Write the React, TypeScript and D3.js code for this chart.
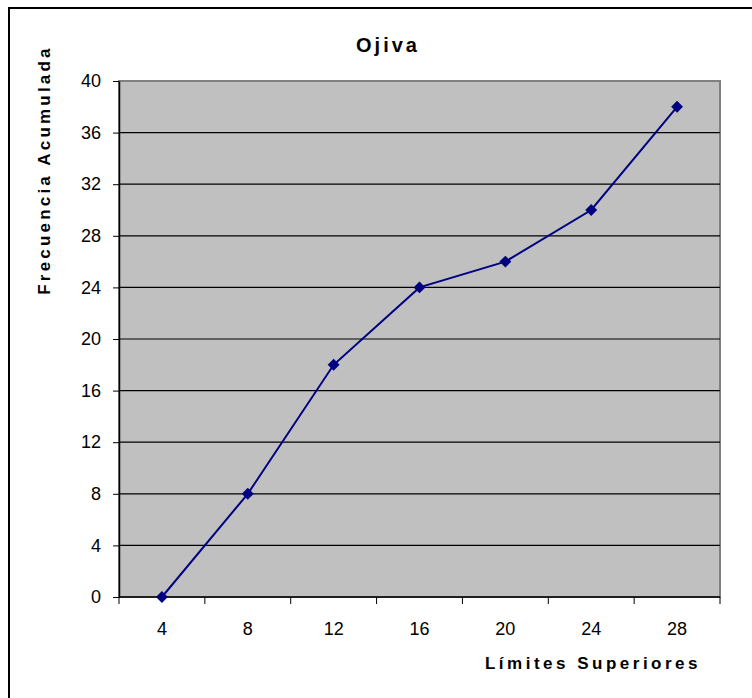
import React, { useEffect, useRef } from 'react';
import * as d3 from 'd3';

const categories = ['4', '8', '12', '16', '20', '24', '28'];
const values = [0, 8, 18, 24, 26, 30, 38];
const yTicks = [0, 4, 8, 12, 16, 20, 24, 28, 32, 36, 40];

const App = () => {
  const ref = useRef<SVGSVGElement | null>(null);

  useEffect(() => {
    const width = 752;
    const height = 698;
    const m = { left: 119, top: 81, right: 720, bottom: 597 };
    const font = 'Liberation Sans, Arial, sans-serif';

    const svg = d3.select(ref.current).attr('width', width).attr('height', height);
    svg.selectAll('*').remove();

    // outer chart border (cropped at right/bottom)
    svg.append('rect')
      .attr('x', 9).attr('y', 8)
      .attr('width', width + 20).attr('height', height + 20)
      .attr('fill', 'white').attr('stroke', 'black').attr('stroke-width', 2);

    const x = d3.scaleBand().domain(categories).range([m.left, m.right]);
    const y = d3.scaleLinear().domain([0, 40]).range([m.bottom, m.top]);

    // plot area
    svg.append('rect')
      .attr('x', m.left).attr('y', m.top)
      .attr('width', m.right - m.left).attr('height', m.bottom - m.top)
      .attr('fill', '#c0c0c0').attr('stroke', '#808080').attr('stroke-width', 2);

    // gridlines
    svg.append('g')
      .selectAll('line')
      .data(yTicks.filter((t) => t > 0 && t < 40))
      .enter().append('line')
      .attr('x1', m.left).attr('x2', m.right)
      .attr('y1', (d) => y(d)).attr('y2', (d) => y(d))
      .attr('stroke', 'black').attr('stroke-width', 1.2);

    // y axis
    const yAxis = svg.append('g')
      .attr('transform', `translate(${m.left},0)`)
      .call(d3.axisLeft(y).tickValues(yTicks).tickSize(6).tickSizeOuter(0).tickPadding(12));
    yAxis.select('.domain').attr('stroke', 'black').attr('stroke-width', 1.5);
    yAxis.selectAll('line').attr('stroke', 'black');
    yAxis.selectAll('text')
      .attr('font-family', font).attr('font-size', 18).attr('fill', 'black');

    // x axis
    const xAxis = svg.append('g').attr('transform', `translate(0,${m.bottom})`);
    xAxis.append('line')
      .attr('x1', m.left).attr('x2', m.right)
      .attr('stroke', 'black').attr('stroke-width', 1.5);
    const edges = categories.map((c) => x(c) as number).concat([m.right]);
    xAxis.selectAll('.tk')
      .data(edges)
      .enter().append('line')
      .attr('x1', (d) => d).attr('x2', (d) => d)
      .attr('y1', 0).attr('y2', 7)
      .attr('stroke', 'black');
    xAxis.selectAll('text')
      .data(categories)
      .enter().append('text')
      .attr('x', (d) => (x(d) as number) + x.bandwidth() / 2)
      .attr('y', 38)
      .attr('text-anchor', 'middle')
      .attr('font-family', font).attr('font-size', 18)
      .text((d) => d);

    // line
    const line = d3.line<number>()
      .x((d, i) => (x(categories[i]) as number) + x.bandwidth() / 2)
      .y((d) => y(d));
    svg.append('path')
      .datum(values)
      .attr('d', line)
      .attr('fill', 'none').attr('stroke', '#000080').attr('stroke-width', 2);

    svg.append('g')
      .selectAll('path')
      .data(values)
      .enter().append('path')
      .attr('d', d3.symbol().type(d3.symbolDiamond2).size(90))
      .attr('transform', (d, i) => `translate(${(x(categories[i]) as number) + x.bandwidth() / 2},${y(d)})`)
      .attr('fill', '#000080');

    // titles
    svg.append('text')
      .attr('x', 388).attr('y', 52)
      .attr('text-anchor', 'middle')
      .attr('font-family', font).attr('font-size', 20).attr('font-weight', 'bold')
      .attr('letter-spacing', 3)
      .text('Ojiva');

    svg.append('text')
      .attr('transform', 'translate(50,170) rotate(-90)')
      .attr('text-anchor', 'middle')
      .attr('font-family', font).attr('font-size', 17).attr('font-weight', 'bold')
      .attr('letter-spacing', 3.2)
      .text('Frecuencia Acumulada');

    svg.append('text')
      .attr('x', 593).attr('y', 669)
      .attr('text-anchor', 'middle')
      .attr('font-family', font).attr('font-size', 17).attr('font-weight', 'bold')
      .attr('letter-spacing', 3.5)
      .text('Límites Superiores');
  }, []);

  return (
    <svg ref={ref} style={{ position: 'absolute', left: 0, top: 0, display: 'block' }} />
  );
};

export default App;
